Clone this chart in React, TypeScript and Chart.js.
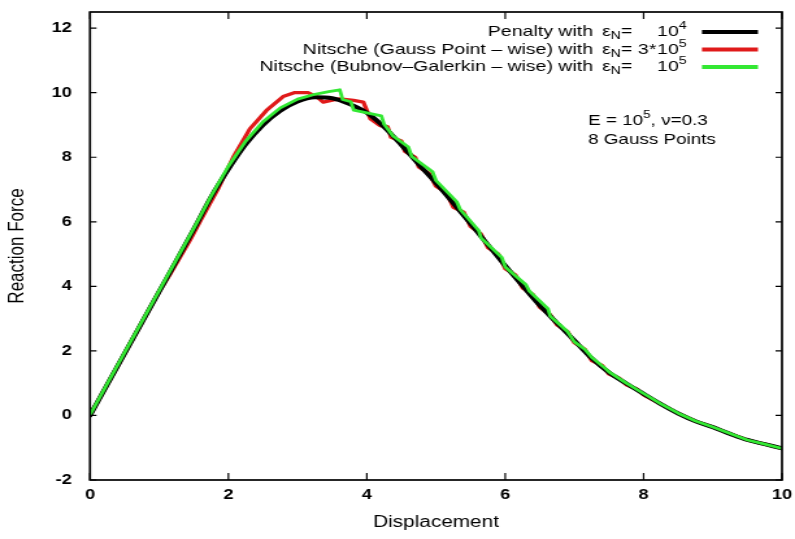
import React, { useEffect, useRef } from 'react';
import { Chart, registerables } from 'chart.js';

Chart.register(...registerables);

// ---------------- data ----------------
const penaltyX = [0, 0.25, 0.5, 0.75, 1, 1.25, 1.5, 1.75, 2, 2.25, 2.5, 2.75, 3, 3.25, 3.5, 3.75, 4, 4.25, 4.5, 4.75, 5, 5.25, 5.5, 5.75, 6, 6.25, 6.5, 6.75, 7, 7.25, 7.5, 7.75, 8, 8.25, 8.5, 8.75, 9, 9.25, 9.5, 9.75, 10];
const penaltyY = [0, 0.96, 1.92, 2.88, 3.84, 4.8, 5.77, 6.77, 7.63, 8.4, 9.0, 9.44, 9.73, 9.86, 9.83, 9.65, 9.38, 8.94, 8.38, 7.78, 7.2, 6.58, 5.94, 5.29, 4.64, 4.02, 3.41, 2.86, 2.32, 1.77, 1.33, 0.99, 0.67, 0.35, 0.06, -0.18, -0.36, -0.57, -0.76, -0.89, -1.02];

const gaussX = [0, 0.5, 1.0, 1.15, 1.3, 1.45, 1.6, 1.85, 2.07, 2.31, 2.55, 2.79, 2.95, 3.15, 3.28, 3.37, 3.52, 3.61, 3.81, 3.95, 4.05, 4.19, 4.3, 4.35, 4.5, 4.55, 4.7, 4.75, 4.9, 5.0, 5.15, 5.25, 5.4, 5.5, 5.65, 5.75, 5.9, 6.0, 6.15, 6.25, 6.4, 6.5, 6.65, 6.75, 6.9, 7.0, 7.15, 7.25, 7.4, 7.5, 7.65, 7.75, 7.9, 8.0, 8.25, 8.5, 8.75, 9.0, 9.25, 9.5, 9.75, 10];
const gaussY = [0, 1.92, 3.84, 4.35, 4.9, 5.45, 6.05, 7.02, 8.0, 8.88, 9.45, 9.88, 10.0, 10.0, 9.87, 9.71, 9.78, 9.81, 9.76, 9.71, 9.19, 8.98, 8.95, 8.62, 8.5, 8.18, 8.0, 7.7, 7.5, 7.1, 6.9, 6.45, 6.3, 5.85, 5.62, 5.2, 5.0, 4.55, 4.35, 3.95, 3.75, 3.35, 3.12, 2.8, 2.6, 2.25, 2.05, 1.7, 1.55, 1.28, 1.15, 0.95, 0.82, 0.64, 0.35, 0.06, -0.18, -0.36, -0.57, -0.76, -0.89, -1.02];

const bubnovX = [0, 0.5, 1.0, 1.5, 1.75, 2.0, 2.25, 2.5, 2.75, 3.0, 3.25, 3.45, 3.61, 3.65, 3.77, 3.81, 4.21, 4.25, 4.38, 4.6, 4.65, 4.95, 5.0, 5.3, 5.35, 5.62, 5.65, 5.95, 6.0, 6.3, 6.35, 6.62, 6.65, 6.9, 7.0, 7.15, 7.25, 7.45, 7.5, 7.75, 8.0, 8.25, 8.5, 8.75, 9.0, 9.25, 9.5, 9.75, 10];
const bubnovY = [0.02, 1.95, 3.87, 5.8, 6.8, 7.72, 8.5, 9.1, 9.53, 9.8, 9.95, 10.03, 10.09, 9.79, 9.72, 9.46, 9.28, 9.02, 8.66, 8.32, 8.02, 7.55, 7.28, 6.62, 6.38, 5.72, 5.5, 4.9, 4.6, 4.05, 3.85, 3.3, 3.08, 2.6, 2.28, 2.05, 1.8, 1.45, 1.35, 1.0, 0.68, 0.36, 0.07, -0.17, -0.36, -0.56, -0.76, -0.89, -1.02];

const xTicks = [0, 2, 4, 6, 8, 10];
const yTicks = [-2, 0, 2, 4, 6, 8, 10, 12];

const legendPrefix = ['Penalty with', 'Nitsche (Gauss Point \u2013 wise) with', 'Nitsche (Bubnov\u2013Galerkin \u2013 wise) with'];
const legendCoef = ['', '3*', ''];
const legendExp = ['4', '5', '5'];
const seriesColors = ['#000000', '#e01a1a', '#33e833'];

const noteLine1 = ['E = 10', '5', ', \u03bd=0.3'];
const noteLine2 = '8 Gauss Points';

const xTitle = 'Displacement';
const yTitle = 'Reaction Force';

// ---------------- layout helpers ----------------
const OUT_W = 795;
const OUT_H = 539;
const CANVAS_W = 612; // drawn narrower, then stretched horizontally (like the original raster)
const S = OUT_W / CANVAS_W;
const FONT = '"Liberation Sans", Arial, Helvetica, sans-serif';

function drawText(ctx: CanvasRenderingContext2D, text: string, x: number, y: number, size: number, align: 'left' | 'right') {
  ctx.font = `${size}px ${FONT}`;
  const w = ctx.measureText(text).width;
  const x0 = align === 'right' ? x - w : x;
  ctx.textAlign = 'left';
  ctx.textBaseline = 'middle';
  ctx.fillStyle = '#000';
  ctx.fillText(text, x0, y);
  return x0 + w;
}

const framePlugin = {
  id: 'gnuFrame',
  afterDatasetsDraw(chart: any) {
    const { ctx, chartArea } = chart;
    const { left, right, top, bottom } = chartArea;
    const xs = chart.scales.x;
    const ys = chart.scales.y;
    ctx.save();
    ctx.strokeStyle = '#000';
    ctx.lineWidth = 1.7;
    ctx.strokeRect(left, top, right - left, bottom - top);
    ctx.lineWidth = 1.2;
    ctx.beginPath();
    xTicks.forEach((v) => {
      const p = xs.getPixelForValue(v);
      ctx.moveTo(p, bottom);
      ctx.lineTo(p, bottom - 7);
      ctx.moveTo(p, top);
      ctx.lineTo(p, top + 7);
    });
    yTicks.forEach((v) => {
      const p = ys.getPixelForValue(v);
      ctx.moveTo(left, p);
      ctx.lineTo(left + 5, p);
      ctx.moveTo(right, p);
      ctx.lineTo(right - 5, p);
    });
    ctx.stroke();
    ctx.restore();
  },
  afterDraw(chart: any) {
    const { ctx, chartArea } = chart;
    const right = chartArea.right;
    const top = chartArea.top;
    ctx.save();
    chart.data.datasets.forEach((ds: any, i: number) => {
      const y = top + 20 + i * 17.5;
      drawText(ctx, legendPrefix[i], right - 145.5, y, 15, 'right');
      let e = drawText(ctx, '\u03b5', right - 138.6, y, 15, 'left');
      e = drawText(ctx, 'N', e, y + 4, 11, 'left');
      drawText(ctx, '=', e, y, 15, 'left');
      const tenX = right - 96.2;
      if (legendCoef[i]) drawText(ctx, legendCoef[i], tenX - 0.5, y, 15, 'right');
      const t = drawText(ctx, '10', tenX, y, 15, 'left');
      drawText(ctx, legendExp[i], t, y - 6, 11, 'left');
      ctx.beginPath();
      ctx.strokeStyle = ds.borderColor;
      ctx.lineWidth = 4;
      ctx.moveTo(right - 61.6, y);
      ctx.lineTo(right - 18.5, y);
      ctx.stroke();
    });
    const ax = right - 149.3;
    let e = drawText(ctx, noteLine1[0], ax, top + 109, 14.5, 'left');
    e = drawText(ctx, noteLine1[1], e, top + 103, 10.5, 'left');
    drawText(ctx, noteLine1[2], e, top + 109, 14.5, 'left');
    drawText(ctx, noteLine2, ax, top + 128, 14.5, 'left');
    ctx.restore();
  },
};

function pts(xs: number[], ys: number[]) {
  return xs.map((x, i) => ({ x, y: ys[i] }));
}

export default function App() {
  const ref = useRef<HTMLCanvasElement>(null);
  useEffect(() => {
    if (!ref.current) return;
    const tickFont = { family: FONT, size: 14, weight: 'bold' as const };
    const titleFont = { family: FONT, size: 16 };
    const yTitleFont = { family: FONT, size: 17 };
    const chart = new Chart(ref.current, {
      type: 'line',
      data: {
        datasets: [
          {
            label: `${legendPrefix[0]} \u03b5N=${legendCoef[0]}10^${legendExp[0]}`,
            data: pts(penaltyX, penaltyY),
            borderColor: seriesColors[0],
            borderWidth: 4,
            pointRadius: 0,
            cubicInterpolationMode: 'monotone',
            order: 1,
          },
          {
            label: `${legendPrefix[1]} \u03b5N=${legendCoef[1]}10^${legendExp[1]}`,
            data: pts(gaussX, gaussY),
            borderColor: seriesColors[1],
            borderWidth: 3.3,
            pointRadius: 0,
            tension: 0,
            order: 2,
          },
          {
            label: `${legendPrefix[2]} \u03b5N=${legendCoef[2]}10^${legendExp[2]}`,
            data: pts(bubnovX, bubnovY),
            borderColor: seriesColors[2],
            borderWidth: 2.8,
            pointRadius: 0,
            tension: 0,
            order: 0,
          },
        ],
      },
      options: {
        animation: false,
        responsive: false,
        maintainAspectRatio: false,
        devicePixelRatio: 1,
        layout: { padding: { top: 12, right: CANVAS_W - 782 / S, left: 0, bottom: 0 } },
        plugins: { legend: { display: false }, tooltip: { enabled: false } },
        elements: { line: { borderCapStyle: 'round', borderJoinStyle: 'round' } },
        scales: {
          x: {
            type: 'linear',
            min: 0,
            max: 10,
            afterBuildTicks: (s: any) => {
              s.ticks = xTicks.map((v) => ({ value: v }));
            },
            afterFit: (s: any) => {
              s.height = OUT_H - 480;
              s.paddingLeft = 0;
              s.paddingRight = 0;
            },
            grid: { display: false, drawTicks: false },
            border: { display: false },
            ticks: { font: tickFont, color: '#000', padding: 7, maxRotation: 0, autoSkip: false },
            title: { display: true, text: xTitle, font: titleFont, color: '#000', padding: { top: 0, bottom: 7 } },
          },
          y: {
            type: 'linear',
            min: -2,
            max: 12.5,
            afterBuildTicks: (s: any) => {
              s.ticks = yTicks.map((v) => ({ value: v }));
            },
            afterFit: (s: any) => {
              s.width = 90 / S;
              s.paddingTop = 0;
              s.paddingBottom = 0;
            },
            grid: { display: false, drawTicks: false },
            border: { display: false },
            ticks: { font: tickFont, color: '#000', padding: 14, autoSkip: false },
            title: { display: true, text: yTitle, font: yTitleFont, color: '#000', padding: { top: 3, bottom: 0 } },
          },
        },
      },
      plugins: [framePlugin],
    });
    return () => chart.destroy();
  }, []);
  return (
    <div style={{ position: 'absolute', left: 0, top: 0, width: OUT_W, height: OUT_H, background: '#fff' }}>
      <canvas
        ref={ref}
        width={CANVAS_W}
        height={OUT_H}
        style={{ display: 'block', width: `${OUT_W}px`, height: `${OUT_H}px` }}
      />
    </div>
  );
}
